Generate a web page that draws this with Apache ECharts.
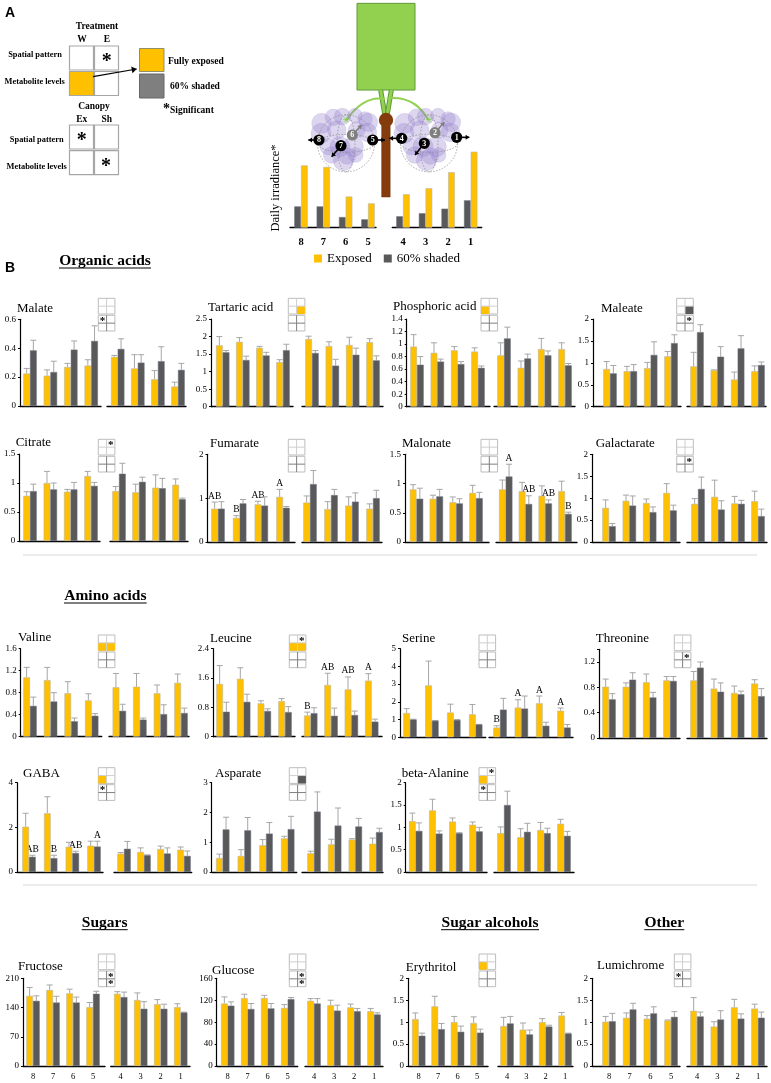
<!DOCTYPE html>
<html><head><meta charset="utf-8">
<script src="https://cdn.jsdelivr.net/npm/echarts@6/dist/echarts.min.js"></script>
<style>html,body{margin:0;padding:0;background:#fff}#main{width:771px;height:1083px}</style>
</head><body><div id="main"></div>
<script>
// ---------- data ----------
const sites = ['8','7','6','5','4','3','2','1'];
const irradianceExposed = [82,80,41,32,44,52,73,100];
const irradianceShaded  = [28,28,14,11,15,19,25,36];

const malateExposed = [.225,.21,.27,.28,.34,.26,.185,.135];
const malateShaded = [.385,.235,.39,.45,.395,.30,.31,.25];
const malateExposedTop = [.26,.25,.295,.32,.35,.355,.245,.165];
const malateShadedTop = [.455,.31,.45,.555,.465,.355,.41,.295];

const tartaricExposed = [1.75,1.85,1.68,1.27,1.93,1.73,1.76,1.84];
const tartaricShaded = [1.55,1.33,1.46,1.61,1.53,1.17,1.48,1.32];
const tartaricExposedTop = [2.0,1.97,1.72,1.34,2.01,1.85,1.98,1.94];
const tartaricShadedTop = [1.6,1.44,1.55,1.78,1.6,1.35,1.67,1.45];

const phosphoricExposed = [.96,.86,.9,.88,.82,.62,.92,.92];
const phosphoricShaded = [.67,.72,.68,.62,1.09,.77,.82,.66];
const phosphoricExposedTop = [1.15,1.02,.96,.94,1.02,.73,1.09,1.02];
const phosphoricShadedTop = [.80,.76,.72,.65,1.27,.84,.89,.69];

const maleateExposed = [.86,.81,.88,1.15,.92,.83,.62,.81];
const maleateShaded = [.76,.81,1.18,1.45,1.7,1.14,1.33,.95];
const maleateExposedTop = [1.03,.92,1.01,1.26,1.24,.84,.79,.93];
const maleateShadedTop = [.94,.96,1.48,1.64,1.87,1.37,1.62,1.02];

const citrateExposed = [.78,1.0,.85,1.12,.86,.84,.92,.97];
const citrateShaded = [.86,.89,.89,.95,1.16,1.02,.91,.72];
const citrateExposedTop = [.85,1.2,.89,1.2,.94,.98,1.14,1.07];
const citrateShadedTop = [.98,1.0,1.01,1.01,1.34,1.10,1.08,.74];

const fumarateExposed = [.76,.55,.86,1.03,.9,.75,.83,.76];
const fumarateShaded = [.76,.88,.83,.78,1.32,1.07,.92,1.0];
const fumarateExposedTop = [.91,.6,.93,1.2,1.05,.92,1.03,.87];
const fumarateShadedTop = [.92,.97,1.03,.81,1.63,1.2,1.12,1.18];
const fumarateExposedLetters = ['AB','B','AB','A','','','',''];

const malonateExposed = [.9,.74,.68,.84,.9,.87,.79,.87];
const malonateShaded = [.74,.78,.66,.75,1.12,.65,.66,.48];
const malonateExposedTop = [.98,.8,.77,.97,1.06,1.02,.96,1.04];
const malonateShadedTop = [.92,.9,.74,.85,1.33,.79,.72,.51];
const malonateShadedLetters = ['','','','','A','AB','AB','B'];

const galactarateExposed = [.78,.94,.89,1.12,.87,1.03,.88,.93];
const galactarateShaded = [.36,.83,.68,.72,1.21,.74,.87,.59];
const galactarateExposedTop = [.96,1.07,.98,1.33,.99,1.41,1.04,1.16];
const galactarateShadedTop = [.42,1.05,.8,.84,1.48,.94,.95,.75];

const valineExposed = [1.08,1.03,.79,.66,.90,.91,.79,.98];
const valineShaded = [.56,.64,.28,.38,.47,.31,.41,.43];
const valineExposedTop = [1.26,1.26,1.0,.78,1.15,1.15,.94,1.14];
const valineShadedTop = [.72,.8,.34,.42,.59,.34,.58,.52];

const leucineExposed = [1.44,1.58,.91,.97,.58,1.41,1.29,1.53];
const leucineShaded = [.68,.95,.7,.67,.64,.57,.59,.41];
const leucineExposedTop = [1.94,1.88,.98,1.04,.67,1.73,1.63,1.72];
const leucineShadedTop = [.94,1.16,.76,.82,.79,.78,.7,.48];
const leucineExposedLetters = ['','','','','B','AB','AB','A'];

const serineExposed = [1.37,2.93,1.4,1.3,.55,1.68,1.92,1.5];
const serineShaded = [1.0,.93,.98,.72,1.56,1.62,.65,.55];
const serineExposedTop = [1.62,4.3,1.87,1.85,.65,2.12,2.33,1.65];
const serineShadedTop = [1.02,.95,1.0,.73,2.2,2.33,.85,.72];
const serineExposedLetters = ['','','','','B','A','A','A'];

const threonineExposed = [.81,.81,.88,.91,.91,.78,.71,.86];
const threonineShaded = [.61,.92,.64,.9,1.11,.73,.69,.66];
const threonineExposedTop = [.93,.87,1.01,.97,1.05,.93,.82,.92];
const threonineShadedTop = [.7,1.03,.72,.97,1.2,.87,.74,.78];

const gabaExposed = [2.03,2.63,1.13,1.18,.82,.9,1.03,1.0];
const gabaShaded = [.68,.62,.85,1.14,1.04,.75,.83,.72];
const gabaExposedTop = [2.63,3.37,1.33,1.38,.87,1.08,1.16,1.12];
const gabaShadedTop = [.75,.75,.93,1.38,1.37,.77,1.08,.94];
const gabaShadedLetters = ['AB','B','AB','A','','','',''];

const asparateExposed = [.47,.54,.9,1.13,.63,.93,1.09,.95];
const asparateShaded = [1.43,1.4,1.29,1.44,2.03,1.56,1.53,1.34];
const asparateExposedTop = [.6,.75,1.09,1.2,.7,1.1,1.12,1.14];
const asparateShadedTop = [1.84,1.83,1.66,1.87,2.69,2.15,1.8,1.47];

const alanineExposed = [1.14,1.38,1.13,1.06,.87,.78,.94,1.08];
const alanineShaded = [.92,.86,.87,.91,1.5,.9,.87,.81];
const alanineExposedTop = [1.32,1.63,1.21,1.12,1.01,.97,1.11,1.18];
const alanineShadedTop = [1.1,.92,.88,1.0,1.81,1.09,.98,.91];

const fructoseExposed = [168,182,174,141,173,158,148,141];
const fructoseShaded = [156,152,152,173,165,137,137,128];
const fructoseExposedTop = [188,194,184,152,178,175,159,149];
const fructoseShadedTop = [168,167,165,179,177,154,148,129];

const glucoseExposed = [114,124,124,106,119,111,107,100];
const glucoseShaded = [110,104,105,122,114,101,100,94];
const glucoseExposedTop = [126,131,129,112,123,120,113,105];
const glucoseShadedTop = [117,114,114,125,123,111,105,97];

const erythritolExposed = [1.07,1.36,1.0,.98,.91,.83,1.0,1.15];
const erythritolShaded = [.69,.84,.78,.76,.97,.72,.9,.74];
const erythritolExposedTop = [1.21,1.59,1.13,1.12,1.11,.98,1.08,1.22];
const erythritolShadedTop = [.75,.97,.91,.84,1.13,.82,.93,.75];

const lumichromeExposed = [1.01,1.1,1.08,1.04,1.26,.9,1.34,1.31];
const lumichromeShaded = [1.02,1.29,1.2,1.12,1.13,1.06,1.08,1.1];
const lumichromeExposedTop = [1.13,1.21,1.15,1.05,1.56,1.01,1.52,1.41];
const lumichromeShadedTop = [1.2,1.43,1.35,1.24,1.23,1.26,1.19,1.23];

// ---------- panels: scale, layout, significance boxes ----------
// L/R = [axis start, axis end, first pair centre, last pair centre]; box = cells 0..3 (row by row)
const panels = [
 {name:'Malate',title:[17,309],max:.6,step:.2,y:[319.3,406],L:[20,101,30,91.2],R:[107,186,117.7,178],exp:malateExposed,shd:malateShaded,expTop:malateExposedTop,shdTop:malateShadedTop,box:[98.3,298.3],low:{s:[0]}},
 {name:'Tartaric acid',title:[208,308],max:2.5,step:.5,y:[319,406.7],L:[211,293,222.7,283],R:[302,383,312,373],exp:tartaricExposed,shd:tartaricShaded,expTop:tartaricExposedTop,shdTop:tartaricShadedTop,box:[288.3,298.3],up:{y:[3]}},
 {name:'Phosphoric acid',title:[393,306.7],max:1.4,step:.2,y:[319,406.7],L:[406.7,490,417,478],R:[494,575,504,565],exp:phosphoricExposed,shd:phosphoricShaded,expTop:phosphoricExposedTop,shdTop:phosphoricShadedTop,box:[481,298.3],up:{y:[2]}},
 {name:'Maleate',title:[601,309],max:2,step:.5,y:[319,406.7],L:[593,681,610,671],R:[687,766,697,758],exp:maleateExposed,shd:maleateShaded,expTop:maleateExposedTop,shdTop:maleateShadedTop,box:[676.7,298.3],up:{d:[3]},low:{s:[1]}},
 {name:'Citrate',title:[15.7,442.7],max:1.5,step:.5,y:[454,541],L:[19.3,100,30,91],R:[110,188,119,179],exp:citrateExposed,shd:citrateShaded,expTop:citrateExposedTop,shdTop:citrateShadedTop,box:[98.3,439.3],up:{s:[1]}},
 {name:'Fumarate',title:[210,444],max:2,step:1,y:[454.3,542],L:[207.5,295,218,283],R:[302,382,310,373],exp:fumarateExposed,shd:fumarateShaded,expTop:fumarateExposedTop,shdTop:fumarateShadedTop,expL:fumarateExposedLetters,box:[288.3,439.3]},
 {name:'Malonate',title:[402,443.7],max:1.5,step:.5,y:[454.3,542],L:[405,489,416.5,476],R:[496,577,505.7,565],exp:malonateExposed,shd:malonateShaded,expTop:malonateExposedTop,shdTop:malonateShadedTop,shdL:malonateShadedLetters,box:[481,439.3]},
 {name:'Galactarate',title:[595.7,443.7],max:2,step:.5,y:[454.3,542],L:[592,680,609,670],R:[687,767,698,758],exp:galactarateExposed,shd:galactarateShaded,expTop:galactarateExposedTop,shdTop:galactarateShadedTop,box:[676.7,439.3],low:{s:[1]}},
 {name:'Valine',title:[18,638],max:1.6,step:.4,y:[648.7,736.7],L:[20.7,101.7,30,91.7],R:[109,189,119.3,181],exp:valineExposed,shd:valineShaded,expTop:valineExposedTop,shdTop:valineShadedTop,box:[98.3,635],up:{y:[2,3]}},
 {name:'Leucine',title:[210,638.7],max:2.4,step:.8,y:[648.7,736.7],L:[213,295,223,285],R:[302,382,310.7,371.7],exp:leucineExposed,shd:leucineShaded,expTop:leucineExposedTop,shdTop:leucineShadedTop,expL:leucineExposedLetters,box:[289.3,635],up:{y:[2,3],s:[1]}},
 {name:'Serine',title:[402,639],max:5,step:1,y:[648.7,737.3],L:[400,485.7,410,475.7],R:[489,573,500,564],exp:serineExposed,shd:serineShaded,expTop:serineExposedTop,shdTop:serineShadedTop,expL:serineExposedLetters,box:[479,635]},
 {name:'Threonine',title:[595.7,639],max:1.4,step:.4,y:[649.3,738],L:[599,680,609,670],R:[687,767,697,758],exp:threonineExposed,shd:threonineShaded,expTop:threonineExposedTop,shdTop:threonineShadedTop,box:[674.3,635],low:{s:[1]}},
 {name:'GABA',title:[23,774],max:4,step:2,y:[782.7,872],L:[17,103,29,94],R:[114,191.7,124,184],exp:gabaExposed,shd:gabaShaded,expTop:gabaExposedTop,shdTop:gabaShadedTop,shdL:gabaShadedLetters,box:[98.3,767.7],up:{y:[2]},low:{s:[0]}},
 {name:'Asparate',title:[215,774],max:3,step:1,y:[782.7,872],L:[211.7,296.7,222.7,287.7],R:[302,383,314,376],exp:asparateExposed,shd:asparateShaded,expTop:asparateExposedTop,shdTop:asparateShadedTop,box:[289.3,767.7],up:{d:[3]}},
 {name:'beta-Alanine',title:[401.7,774],max:2,step:.5,y:[782.7,872],L:[405.7,487,415.7,476],R:[494,574,504,564],exp:alanineExposed,shd:alanineShaded,expTop:alanineExposedTop,shdTop:alanineShadedTop,box:[479,767.7],up:{y:[2],s:[1]},low:{s:[0]}},
 {name:'Fructose',title:[18,967],max:210,step:70,y:[978.3,1066],L:[23,105,33,93],R:[110.7,190,120.7,180.7],exp:fructoseExposed,shd:fructoseShaded,expTop:fructoseExposedTop,shdTop:fructoseShadedTop,box:[98.3,954],low:{s:[1,3]},ticks:true},
 {name:'Glucose',title:[212,970.7],max:160,step:40,y:[978.3,1066],L:[216.7,297.7,227.7,287.7],R:[305,383,314,374],exp:glucoseExposed,shd:glucoseShaded,expTop:glucoseExposedTop,shdTop:glucoseShadedTop,box:[289.3,954],low:{s:[1,3]},ticks:true},
 {name:'Erythritol',title:[405.7,968],max:2,step:.5,y:[978.3,1066],L:[408,488,418.7,477],R:[498,573,507,565],exp:erythritolExposed,shd:erythritolShaded,expTop:erythritolExposedTop,shdTop:erythritolShadedTop,box:[479,954],up:{y:[2]},ticks:true},
 {name:'Lumichrome',title:[597,966],max:2,step:.5,y:[978.3,1066],L:[592,680,609,671],R:[687,767,697,758],exp:lumichromeExposed,shd:lumichromeShaded,expTop:lumichromeExposedTop,shdTop:lumichromeShadedTop,box:[674.3,954],low:{s:[0]},ticks:true}
];

const YEL='#FFC000', DRK='#595959', SERIF='"Liberation Serif"';
const BAR=6.7;
const grid=[],xAxis=[],yAxis=[],series=[],els=[];
const expStyle={color:YEL,borderColor:'#b9b7a8',borderWidth:.6};
const shdStyle={color:DRK,borderColor:'#6d7386',borderWidth:.5};

function addGrid(o){
  const i=grid.length, [x0,x1,c1,c4]=o.span, s=(c4-c1)/3;
  grid.push({left:x0,top:o.y[0],width:x1-x0,height:o.y[1]-o.y[0]});
  const labels=o.labels;
  xAxis.push({type:'value',gridIndex:i,min:1-(c1-x0)/s,max:4+(x1-c4)/s,splitLine:{show:false},
    axisLine:{show:true,onZero:false,lineStyle:{color:'#000',width:1.4}},axisTick:{show:false},
    axisLabel:labels?{show:true,customValues:[1,2,3,4],formatter:v=>labels[v-1],margin:o.labelMargin||5,color:'#000',
      fontFamily:SERIF,fontSize:o.labelSize||8.5,fontWeight:o.labelWeight||'normal'}:{show:false}});
  yAxis.push({type:'value',gridIndex:i,min:0,max:o.max,interval:o.step,show:!!o.showY,splitLine:{show:false},
    axisLine:{show:true,onZero:false,lineStyle:{color:'#000',width:1.2}},axisTick:{show:true,length:2,lineStyle:{color:'#000'}},
    axisLabel:{margin:4,color:'#000',fontFamily:SERIF,fontSize:9,formatter:v=>(v>o.step*Math.floor(o.max/o.step+1e-6)+1e-6?'':String(+v.toFixed(2)))}});
  return i;
}
function bars(i,name,vals,style){
  series.push({type:'bar',name,xAxisIndex:i,yAxisIndex:i,barWidth:BAR,barGap:'0%',z:3,data:vals.map((v,k)=>[k+1,v]),itemStyle:style});
}
function errSeries(i,vals,tops,side,letters){
  series.push({type:'custom',xAxisIndex:i,yAxisIndex:i,z:2,clip:false,silent:true,encode:{x:0,y:1},
    data:tops.map((t,k)=>[k+1,t,vals[k]]),
    renderItem(p,api){
      const a=api.coord([api.value(0),api.value(1)]),b=api.coord([api.value(0),api.value(2)]);
      const x=a[0]+side*BAR/2, st={stroke:'#a6a6a6',lineWidth:1};
      const ch=[{type:'line',shape:{x1:x,y1:a[1],x2:x,y2:b[1]},style:st},
                {type:'line',shape:{x1:x-3,y1:a[1],x2:x+3,y2:a[1]},style:st}];
      const L=letters&&letters[p.dataIndex];
      if(L) ch.push({type:'text',x:x,y:a[1]-6,style:{text:L,textAlign:'center',textVerticalAlign:'middle',fill:'#000',font:'9.5px '+SERIF}});
      return {type:'group',children:ch};
    }});
}
panels.forEach(p=>{
  const half=(span,a,b,showY)=>{
    const i=addGrid({span,y:p.y,max:p.max,step:p.step,showY,labels:p.ticks?sites.slice(a,b):null,labelMargin:6});
    bars(i,'Exposed',p.exp.slice(a,b),expStyle);
    bars(i,'60% shaded',p.shd.slice(a,b),shdStyle);
    errSeries(i,p.exp.slice(a,b),p.expTop.slice(a,b),-1,p.expL&&p.expL.slice(a,b));
    errSeries(i,p.shd.slice(a,b),p.shdTop.slice(a,b),1,p.shdL&&p.shdL.slice(a,b));
  };
  half(p.L,0,4,true); half(p.R,4,8,false);
  text(p.name,p.title[0],p.title[1],'13px '+SERIF);
  mini(p.box[0],p.box[1],p.up||{},p.low||{});
});
// irradiance panel: shaded bar sits left of exposed here
[[[290,376,301,368],0,4],[[392.3,481.7,403,470.7],4,8]].forEach(([span,a,b])=>{
  const i=addGrid({span,y:[151.7,227.7],max:100,step:50,labels:sites.slice(a,b),labelMargin:9,labelSize:10.5,labelWeight:'bold'});
  bars(i,'60% shaded',irradianceShaded.slice(a,b),shdStyle);
  bars(i,'Exposed',irradianceExposed.slice(a,b),expStyle);
});

// ---------- drawing helpers for the annotation graphics ----------
function text(t,x,y,font,align,fill){
  els.push({type:'text',x,y,silent:true,z:10,style:{text:t,font,fill:fill||'#000',textAlign:align||'left',textVerticalAlign:'middle'}});
}
function rect(x,y,w,h,fill,stroke,lw){
  els.push({type:'rect',silent:true,z:9,shape:{x,y,width:w,height:h},style:{fill:fill||'#fff',stroke:stroke||'none',lineWidth:lw||1}});
}
function line(x1,y1,x2,y2,stroke,lw){
  els.push({type:'line',silent:true,z:9,shape:{x1,y1,x2,y2},style:{stroke,lineWidth:lw||1}});
}
function star(x,y,size){ text('*',x,y+size*.17,'bold '+size+'px '+SERIF,'center'); }
function mini(x,y,up,low){
  const W=16.6,H=15.7,G=17;
  [[y,up,'#cfcfcf'],[y+G,low,'#7f7f7f']].forEach(([yy,c,cross])=>{
    rect(x,yy,W,H,'#fff','#bdbdbd',1);
    const cw=W/2,ch=H/2,pos=[[0,0],[1,0],[0,1],[1,1]];
    (c.y||[]).forEach(k=>rect(x+pos[k][0]*cw,yy+pos[k][1]*ch,cw,ch,YEL));
    (c.d||[]).forEach(k=>rect(x+pos[k][0]*cw,yy+pos[k][1]*ch,cw,ch,DRK));
    line(x+cw,yy,x+cw,yy+H,cross,1); line(x,yy+ch,x+W,yy+ch,cross,1);
    (c.s||[]).forEach(k=>star(x+pos[k][0]*cw+cw/2,yy+pos[k][1]*ch+ch/2,11));
  });
}
function arrow(x1,y1,x2,y2,color,lw,head){
  line(x1,y1,x2,y2,color,lw);
  const a=Math.atan2(y2-y1,x2-x1),h=head||4;
  els.push({type:'polygon',silent:true,z:9,shape:{points:[[x2,y2],[x2-h*Math.cos(a-.6),y2-h*Math.sin(a-.6)],[x2-h*Math.cos(a+.6),y2-h*Math.sin(a+.6)]]},style:{fill:color}});
}

// ---------- panel A legend ----------
text('A',5,13,'bold 14px "Liberation Sans"');
text('B',5,268,'bold 14px "Liberation Sans"');
const B9='bold 9.5px '+SERIF, B8='bold 8.4px '+SERIF;
text('Treatment',97,27,B9,'center');
text('W',82,40,B9,'center'); text('E',107,40,B9,'center');
text('Canopy',94,106.7,B9,'center');
text('Ex',81.7,119.3,B9,'center'); text('Sh',106.7,119.3,B9,'center');
text('Spatial pattern',35,55,B8,'center'); text('Metabolite levels',34.7,81.7,B8,'center');
text('Spatial pattern',36.7,140,B8,'center'); text('Metabolite levels',36.7,166.7,B8,'center');
[[46,'#fff','#fff'],[71.5,YEL,'#fff'],[125,'#fff','#fff'],[150.7,'#fff','#fff']].forEach(([y,a,b])=>{
  rect(69.5,y,24,24,a,'#a6a6a6',1.2); rect(94.5,y,24,24,b,'#a6a6a6',1.2);
});
star(106.7,58,20); star(81.7,137.5,20); star(106,163,20);
arrow(93,76.7,136.7,69,'#000',1.2,6);
rect(139.5,48.5,24.5,23,YEL,'#8f8f6a',1); rect(139.5,74,24.5,24,'#7f7f7f','#666',1);
text('Fully exposed',168,61.7,B9); text('60% shaded',170,86.7,B9);
text('*',163,109,'bold 14px '+SERIF); text('Significant',170,111,B9);

// ---------- vine drawing ----------
const Z=(x,y)=>[260+x/3,y/3];
function zline(a,b,c,d,col,lw){const p=Z(a,b),q=Z(c,d);line(p[0],p[1],q[0],q[1],col,lw);}
function zarrow(a,b,c,d,col){const p=Z(a,b),q=Z(c,d);arrow(p[0],p[1],q[0],q[1],col,1.6,4.5);}
{const p=Z(291,10);rect(p[0],p[1],58,86.7,'#92D050','#5f9a38',1);}
zline(362,270,374,342,'#5f9a38',5);zline(362,270,374,342,'#92D050',3);
zline(394,270,382,342,'#5f9a38',5);zline(394,270,382,342,'#92D050',3);
{const p=Z(365,345);rect(p[0],p[1],8.5,82,'#843C0C','#6b300a',.5);
 const q=Z(378,360);els.push({type:'circle',silent:true,z:9,shape:{cx:q[0],cy:q[1],r:7.2},style:{fill:'#843C0C'}});}
[[375,297,258,362,310,285],[380,295,505,360,465,285]].forEach(([a,b,c,d,e,f])=>{
  const p=Z(a,b),q=Z(c,d),r=Z(e,f);
  els.push({type:'bezierCurve',silent:true,z:9,shape:{x1:p[0],y1:p[1],x2:q[0],y2:q[1],cpx1:r[0],cpy1:r[1]},style:{stroke:'#92D050',lineWidth:2,fill:'none'}});
});
const berries=[[185,370,30],[220,352,25],[247,350,25],[285,347,22],[315,357,22],[325,367,28],[183,400,30],[230,390,28],[290,390,25],[322,397,28],[205,440,25],[240,440,30],[280,440,30],[215,465,25],[250,482,30],[262,468,25],[287,465,22]];
[0,249].forEach(dx=>{
  berries.forEach(([x,y,r])=>{const p=Z(x+dx,y);
    els.push({type:'circle',silent:true,z:9,shape:{cx:p[0],cy:p[1],r:r/3},style:{fill:'rgba(150,130,205,.33)',stroke:'rgba(150,130,205,.35)',lineWidth:.5}});});
  const c=Z(258+dx,430);
  const dash={stroke:'#8a8a8a',lineWidth:.7,lineDash:[1.5,1.5],fill:'none'};
  els.push({type:'circle',silent:true,z:9,shape:{cx:c[0],cy:c[1],r:28.5},style:dash});
  els.push({type:'ellipse',silent:true,z:9,shape:{cx:c[0],cy:c[1],rx:28.5,ry:9},style:dash});
  els.push({type:'ellipse',silent:true,z:9,shape:{cx:c[0],cy:c[1],rx:9,ry:28.5},style:dash});
  const s=Z(258+dx,362);
  text('✳',s[0],s[1],'9px "DejaVu Sans"','center','#7fd13b');
});
[['8',177,420,145,420,'#000'],['7',243,437,215,470,'#000'],['6',277,405,305,375,'#7f7f7f'],['5',338,420,375,420,'#000'],
 ['4',425,415,388,415,'#000'],['3',493,430,465,465,'#000'],['2',525,398,553,367,'#7f7f7f'],['1',590,412,628,412,'#000']].forEach(([n,a,b,c,d,col])=>{
  zarrow(a,b,c,d,col);
  const p=Z(a,b);
  els.push({type:'circle',silent:true,z:9,shape:{cx:p[0],cy:p[1],r:5.6},style:{fill:col}});
  text(n,p[0],p[1]+.3,'bold 8px '+SERIF,'center','#fff');
});
els.push({type:'text',silent:true,z:10,x:276,y:188,rotation:Math.PI/2,style:{text:'Daily irradiance*',font:'12.5px '+SERIF,fill:'#000',textAlign:'center',textVerticalAlign:'middle'}});

// ---------- section headings and separators ----------
[['Organic acids',59,151,261],['Amino acids',64,146.7,596],['Sugars',81.7,127.7,922.7],['Sugar alcohols',441,539,922.7],['Other',644.3,684.3,922.7]].forEach(([t,a,b,y])=>{
  text(t,(a+b)/2,y,'bold 15.5px '+SERIF,'center');
  line(a,y+7,b,y+7,'#000',1);
});
line(23,555,757,555,'#d9d9d9',1); line(23,885,757,885,'#d9d9d9',1);

const chart=echarts.init(document.getElementById('main'),null,{width:771,height:1083});
chart.setOption({animation:false,backgroundColor:'#fff',grid,xAxis,yAxis,series,
  legend:{left:314,top:252,itemWidth:8,itemHeight:8,itemGap:12,icon:'rect',data:['Exposed','60% shaded'],selectedMode:false,
    textStyle:{fontFamily:SERIF,fontSize:13,color:'#000'},padding:0,itemStyle:{borderWidth:0}},
  graphic:{elements:els}});
</script></body></html>
